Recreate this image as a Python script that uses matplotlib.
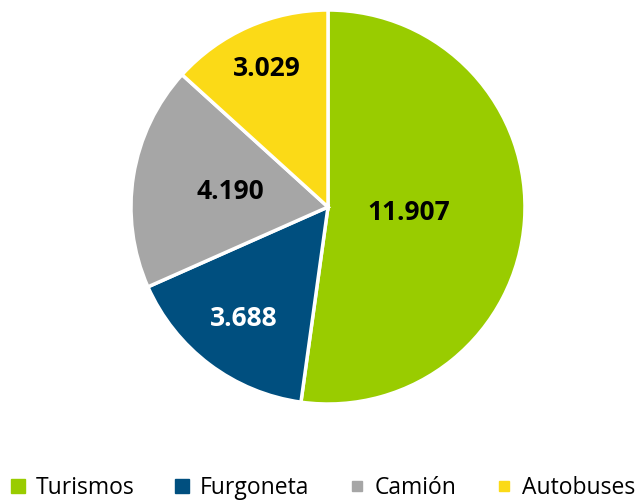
import numpy as np
import matplotlib.pyplot as plt
from matplotlib.lines import Line2D

categories = ["Turismos", "Furgoneta", "Camión", "Autobuses"]
values = [11907, 3688, 4190, 3029]
value_labels = ["11.907", "3.688", "4.190", "3.029"]
colors = ["#99CC00", "#004F7F", "#A6A6A6", "#FBDA17"]
label_colors = ["black", "white", "black", "black"]
label_radius = [0.41, 0.71, 0.50, 0.77]
legend_sizes = [10.5, 10.5, 6.5, 6.5]

plt.rcParams["font.family"] = ["Open Sans", "DejaVu Sans"]

fig = plt.figure(figsize=(6.44, 5.03), dpi=100)
ax = fig.add_axes([0.2034, 0.1968, 0.6118, 0.7833])

wedges, _ = ax.pie(values, colors=colors, startangle=90, counterclock=False,
                   radius=1, wedgeprops=dict(edgecolor="white", linewidth=2.5))
ax.set_xlim(-1, 1)
ax.set_ylim(-1, 1)
ax.set_aspect("equal")
ax.axis("off")

for w, lab, c, r in zip(wedges, value_labels, label_colors, label_radius):
    ang = np.deg2rad((w.theta1 + w.theta2) / 2)
    ax.text(r * np.cos(ang), r * np.sin(ang), lab, ha="center", va="center",
            fontsize=19, fontweight="bold", color=c)

handles = [Line2D([], [], marker="s", linestyle="none", markersize=s,
                  markerfacecolor=c, markeredgecolor=c)
           for c, s in zip(colors, legend_sizes)]
fig.legend(handles, categories, loc="lower center", ncol=4, frameon=False,
           fontsize=16.5, bbox_to_anchor=(0.5, -0.03), columnspacing=1.65,
           handletextpad=0.4, handlelength=0.8, borderpad=0.3)

fig.savefig("out.png", dpi=100)
